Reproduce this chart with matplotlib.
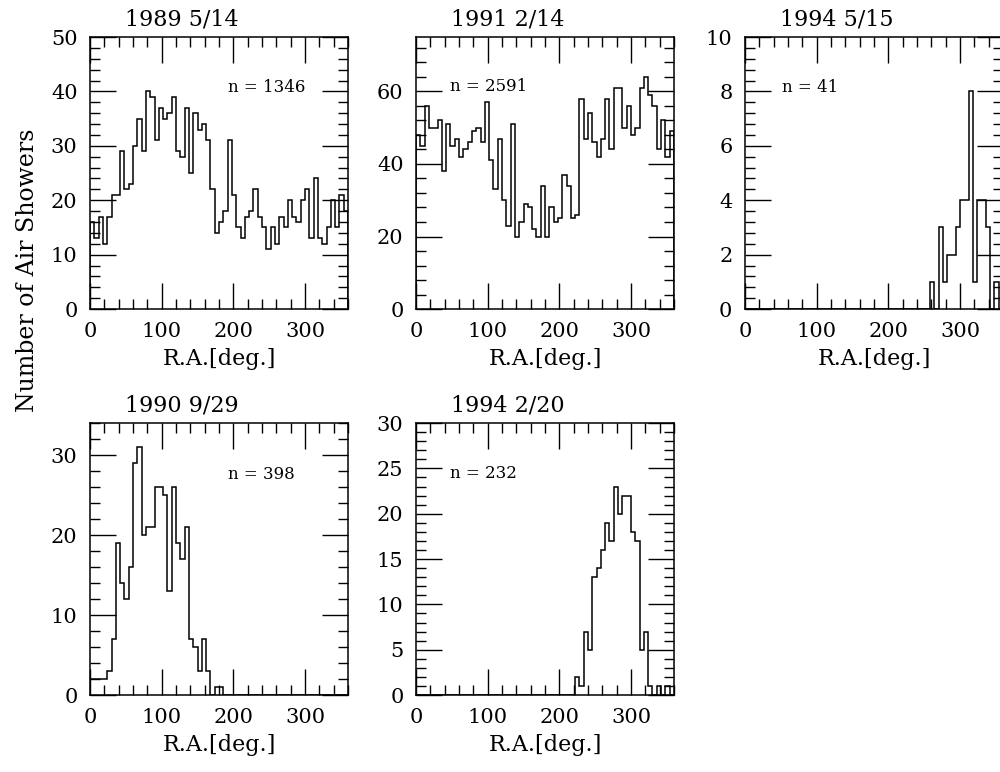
import matplotlib
matplotlib.use('Agg')
import matplotlib.pyplot as plt
import numpy as np
from matplotlib.ticker import MultipleLocator

plt.rcParams['font.family'] = ['DejaVu Serif']

# R.A. bins, 6 deg wide
edges = np.arange(0, 361, 6)

# counts per bin
c_1989 = [16, 13, 17, 12, 17, 21, 21, 29, 22, 23, 30, 35, 29, 40, 39,
          31, 37, 35, 36, 39, 29, 28, 37, 25, 36, 33, 34, 31, 22, 14,
          16, 18, 31, 21, 15, 13, 17, 18, 22, 17, 15, 11, 15, 12, 17,
          15, 20, 17, 16, 20, 22, 13, 24, 13, 12, 15, 20, 15, 21, 18]
c_1991 = [48, 45, 56, 50, 50, 52, 38, 51, 45, 47, 42, 44, 46, 49, 50,
          46, 57, 41, 33, 47, 30, 23, 51, 20, 24, 29, 28, 22, 20, 34,
          20, 28, 24, 25, 37, 34, 25, 26, 58, 47, 54, 46, 42, 47, 58,
          44, 61, 61, 50, 56, 48, 50, 61, 64, 59, 56, 44, 52, 42, 49]
c_1994a = [0] * 43 + [1, 0, 3, 1, 2, 2, 3, 4, 4, 8, 1, 4, 4, 3, 0, 1, 0]
c_1990 = [2, 2, 2, 2, 3, 7, 19, 14, 12, 16, 29, 31, 20, 21, 21,
          26, 26, 25, 13, 26, 19, 17, 21, 7, 6, 3, 7, 3, 0, 1, 1] + [0] * 29
c_1994b = [0] * 37 + [2, 1, 7, 5, 13, 14, 16, 19, 17, 23, 20, 22, 22,
                      18, 17, 5, 7, 1, 0, 1, 0, 1, 0]

titles = ['1989 5/14', '1991 2/14', '1994 5/15', '1990 9/29', '1994 2/20']
counts = [c_1989, c_1991, c_1994a, c_1990, c_1994b]
n_text = ['n = 1346', 'n = 2591', 'n = 41', 'n = 398', 'n = 232']
ymax = [50, 75, 10, 34, 30]
ymajor = [10, 20, 2, 10, 5]
yminor = [2, 4, 0.4, 2, 1]

# axes boxes (left, bottom) in figure fraction
pos = [(0.090, 0.5997), (0.416, 0.5997), (0.745, 0.5997),
       (0.090, 0.0997), (0.416, 0.0997)]
n_pos = [(0.535, 0.815), (0.13, 0.82), (0.143, 0.815), (0.535, 0.81), (0.13, 0.816)]

fig = plt.figure(figsize=(10, 7.72), dpi=100)

for i in range(5):
    ax = fig.add_axes([pos[i][0], pos[i][1], 0.258, 0.3523])
    ax.stairs(counts[i], edges, color='k', lw=1.1)
    ax.set_xlim(0, 360)
    ax.set_ylim(0, ymax[i])
    ax.xaxis.set_major_locator(MultipleLocator(100))
    ax.xaxis.set_minor_locator(MultipleLocator(20))
    ax.yaxis.set_major_locator(MultipleLocator(ymajor[i]))
    ax.yaxis.set_minor_locator(MultipleLocator(yminor[i]))
    ax.tick_params(which='both', direction='in', top=True, right=True,
                   labelsize=15, pad=9, width=1.0)
    ax.tick_params(which='major', length=18.5)
    ax.tick_params(which='minor', length=7)
    for s in ax.spines.values():
        s.set_linewidth(1.1)
    ax.set_xlabel('R.A.[deg.]', fontsize=16)
    ax.xaxis.set_label_coords(0.5, -0.145)
    ax.text(0.355, 1.063, titles[i], transform=ax.transAxes,
            ha='center', va='center', fontsize=16)
    ax.text(n_pos[i][0], n_pos[i][1], n_text[i], transform=ax.transAxes,
            ha='left', va='center', fontsize=12)

fig.text(0.028, 0.65, 'Number of Air Showers', rotation=90,
         ha='center', va='center', fontsize=17)

fig.savefig('out.png', dpi=100)
